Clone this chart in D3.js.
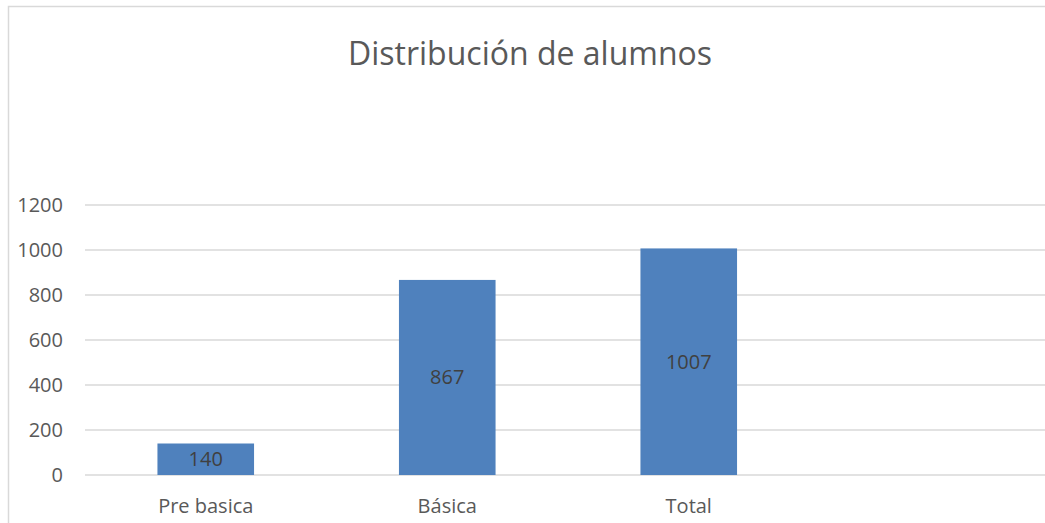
<!DOCTYPE html>
<html>
<head>
<meta charset="utf-8">
<script src="https://cdn.jsdelivr.net/npm/d3@7"></script>
<style>
  body { margin: 0; background: #fff; }
  svg text { font-family: "Open Sans", Lato, sans-serif; }
</style>
</head>
<body>
<div id="plot"></div>
<script>
// data
var categories = ["Pre basica", "Básica", "Total", ""];
var values = [140, 867, 1007, null];
var yTicks = [0, 200, 400, 600, 800, 1000, 1200];

var W = 1045, H = 523;
var margin = {top: 205, right: -6, bottom: 48, left: 85},
    width = W - margin.left - margin.right,
    height = H - margin.top - margin.bottom;

var svg = d3.select("div#plot")
  .append("svg")
    .attr("width", W)
    .attr("height", H);

// chart border (only top and left visible)
svg.append("rect")
  .attr("x", 8.5).attr("y", 6.5)
  .attr("width", W + 20).attr("height", H + 20)
  .attr("fill", "none")
  .attr("stroke", "#d9d9d9")
  .attr("stroke-width", 1.5);

svg.append("text")
  .attr("x", 530).attr("y", 65)
  .attr("text-anchor", "middle")
  .attr("font-size", "32px")
  .attr("fill", "#595959")
  .text("Distribución de alumnos");

var g = svg.append("g")
  .attr("transform", "translate(" + margin.left + "," + margin.top + ")");

var x = d3.scaleBand().domain(categories.map((c, i) => i)).range([0, width]).paddingInner(0.6).paddingOuter(0.3);
var y = d3.scaleLinear().domain([0, 1200]).range([height, 0]);

// gridlines
g.append("g")
  .selectAll("line")
  .data(yTicks)
  .enter()
  .append("line")
    .attr("x1", 0).attr("x2", width)
    .attr("y1", d => y(d)).attr("y2", d => y(d))
    .attr("stroke", "#d9d9d9")
    .attr("stroke-width", 1.5);

// y axis labels
var yAxis = g.append("g")
  .call(d3.axisLeft(y).tickValues(yTicks).tickFormat(d3.format("d")).tickSize(0).tickPadding(22));
yAxis.select(".domain").remove();
yAxis.selectAll("text").attr("font-size", "20px").attr("fill", "#595959").attr("font-family", "'Open Sans', Lato, sans-serif");

// x axis labels
var xAxis = g.append("g")
  .attr("transform", "translate(0," + height + ")")
  .call(d3.axisBottom(x).tickFormat(i => categories[i]).tickSize(0).tickPadding(24));
xAxis.select(".domain").remove();
xAxis.selectAll("text").attr("font-size", "20px").attr("fill", "#595959").attr("font-family", "'Open Sans', Lato, sans-serif");

var barData = values.map((v, i) => ({i: i, v: v})).filter(d => d.v != null);

g.append("g")
  .selectAll("rect")
  .data(barData)
  .enter()
  .append("rect")
    .attr("x", d => x(d.i))
    .attr("width", x.bandwidth())
    .attr("y", d => y(d.v))
    .attr("height", d => height - y(d.v))
    .attr("fill", "#4f81bd");

g.append("g")
  .selectAll("text")
  .data(barData)
  .enter()
  .append("text")
    .attr("x", d => x(d.i) + x.bandwidth() / 2)
    .attr("y", d => (y(d.v) + height) / 2)
    .attr("dy", "0.35em")
    .attr("text-anchor", "middle")
    .attr("font-size", "20px")
    .attr("fill", "#404040")
    .text(d => d.v);
</script>
</body>
</html>
